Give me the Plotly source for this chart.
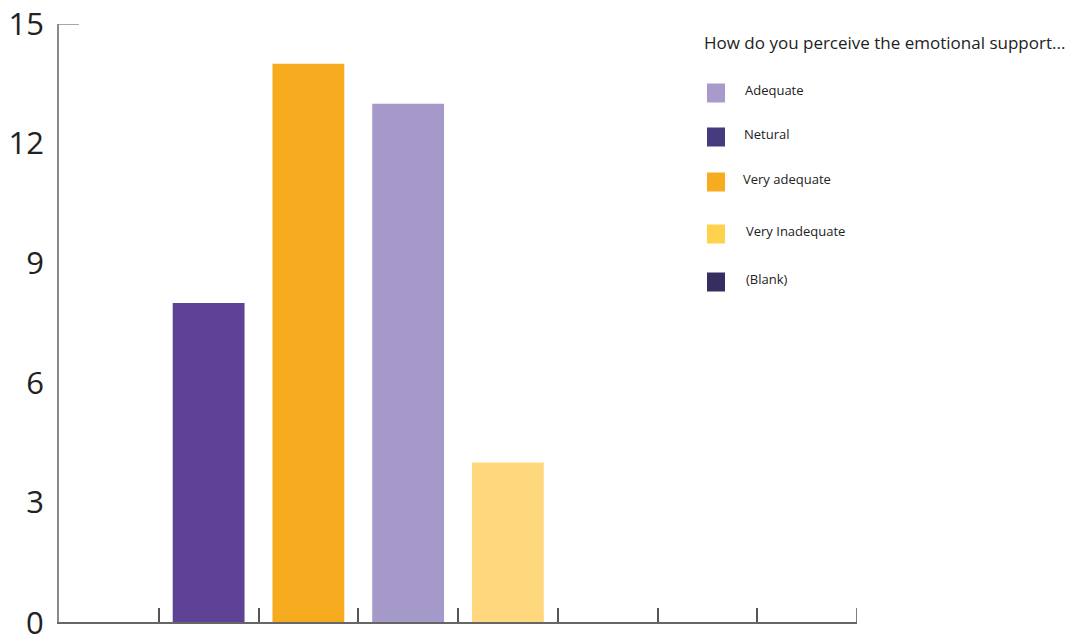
import plotly.graph_objects as go

# Response categories along the x axis (first and last slots are empty)
slots = [0, 1, 2, 3, 4, 5, 6, 7]
bar_slots = [1, 2, 3, 4]
bar_labels = ["Netural", "Very adequate", "Adequate", "Very Inadequate"]
bar_values = [8, 14, 13, 4]
bar_colors = ["#5D4295", "#F6AA1E", "#A599C9", "#FFD77C"]

# Legend entries
legend_title = "How do you perceive the emotional support..."
legend_labels = ["Adequate", "Netural", "Very adequate", "Very Inadequate", "(Blank)"]
legend_colors = ["#A89BCB", "#453A7D", "#F7AB1F", "#FFD24E", "#352E5F"]

y_ticks = [0, 3, 6, 9, 12, 15]

fig = go.Figure()
fig.add_trace(go.Bar(
    x=bar_slots, y=bar_values, width=0.72,
    marker=dict(color=bar_colors, line=dict(width=0)),
    text=bar_labels, textposition="none", hoverinfo="x+y",
    showlegend=False,
))

W, H = 1080, 636
L, R, T, B = 59, 223, 24, 14
TICK_FONT = dict(size=31, color="#222", family="Open Sans, Noto Sans, sans-serif")

fig.update_layout(
    width=W, height=H,
    margin=dict(l=L, r=R, t=T, b=B),
    plot_bgcolor="white", paper_bgcolor="white",
    font=dict(family="Open Sans, Noto Sans, sans-serif", color="#222"),
    bargap=0.28,
)
fig.update_xaxes(
    range=[-0.5, 7.5], showgrid=False, zeroline=False, automargin=False,
    tickmode="array", tickvals=[s + 0.5 for s in slots[:-1]], ticktext=[""] * (len(slots) - 1),
    ticks="inside", ticklen=14, tickwidth=1.5, tickcolor="#555",
    showline=True, linecolor="#666", linewidth=1.5,
)
fig.update_yaxes(
    range=[0, 15], showgrid=False, zeroline=False, automargin=False,
    tickmode="array", tickvals=y_ticks,
    ticks="", ticklabelstandoff=7,
    tickfont=TICK_FONT,
    showline=True, linecolor="#8a8a8a", linewidth=1.5,
)

# the baseline label sits half below the page edge, so it is placed directly
fig.add_annotation(xref="paper", yref="y", x=-13 / (W - L - R), y=y_ticks[0],
                   xanchor="right", yanchor="middle", showarrow=False,
                   text=str(y_ticks[0]), font=TICK_FONT)

# short tick at the top of the y axis and the closing tick at the right end
fig.add_shape(type="line", xref="x", yref="y", x0=-0.5, x1=-0.3, y0=15, y1=15,
              line=dict(color="#8a8a8a", width=1.5))
fig.add_shape(type="line", xref="x", yref="paper", x0=7.5, x1=7.5, y0=0, y1=14 / (H - T - B),
              line=dict(color="#555", width=1.5))

# legend block drawn on the paper
def px_x(p):
    return (p - L) / (W - L - R)

def px_y(p):
    return 1 - (p - T) / (H - T - B)

fig.add_annotation(xref="paper", yref="paper", x=px_x(702), y=px_y(43),
                   xanchor="left", yanchor="middle", showarrow=False,
                   text=legend_title, font=dict(size=17, color="#222"))

row_y = [93, 137, 182, 234, 282]
text_x = [743, 742, 741, 744, 744]
for lab, col, cy, tx in zip(legend_labels, legend_colors, row_y, text_x):
    fig.add_shape(type="rect", xref="paper", yref="paper",
                  x0=px_x(707), x1=px_x(725), y0=px_y(cy - 9.5), y1=px_y(cy + 9.5),
                  fillcolor=col, line=dict(width=0))
    fig.add_annotation(xref="paper", yref="paper", x=px_x(tx), y=px_y(cy - 3),
                       xanchor="left", yanchor="middle", showarrow=False,
                       text=lab, font=dict(size=13, color="#222"))

fig.write_html("out.html")
